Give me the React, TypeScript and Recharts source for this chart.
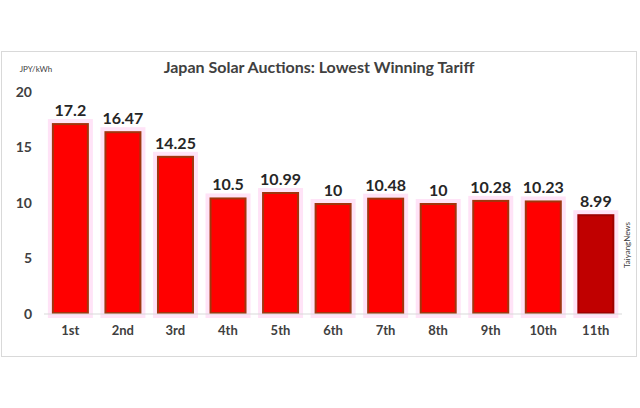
import { BarChart, Bar, XAxis, YAxis, LabelList, Cell } from "recharts";

const rounds = ["1st", "2nd", "3rd", "4th", "5th", "6th", "7th", "8th", "9th", "10th", "11th"];
const tariffs = [17.2, 16.47, 14.25, 10.5, 10.99, 10, 10.48, 10, 10.28, 10.23, 8.99];
const yTicks = [0, 5, 10, 15, 20];

const data = rounds.map((name, i) => ({ name, tariff: tariffs[i] }));

const font = "Lato, 'Open Sans', sans-serif";

// bar with a soft pink glow and a brown edge, like the original
const GlowBar = (props: any) => {
  const { x, y, width, height, fill, index } = props;
  if (!height || height <= 0) return null;
  const last = index === rounds.length - 1;
  return (
    <g>
      <rect x={x - 4} y={y - 4} width={width + 8} height={height + 8} fill="#FFE3F7" />
      <rect
        x={x + 1}
        y={y + 1}
        width={width - 2}
        height={height - 2}
        fill={fill}
        stroke={last ? "#9E0000" : "#A0360E"}
        strokeWidth={2}
      />
    </g>
  );
};

export default function App() {
  return (
    <div style={{ position: "absolute", left: 0, top: 0, width: 640, height: 408, background: "#fff" }}>
      <div
        style={{
          position: "absolute",
          left: 1,
          top: 51,
          width: 636,
          height: 306,
          border: "1px solid #d9d9d9",
          boxSizing: "border-box",
        }}
      />
      <BarChart
        width={640}
        height={408}
        data={data}
        margin={{ top: 92, right: 18, bottom: 64, left: 0 }}
        barCategoryGap="15%"
        style={{ position: "absolute", left: 0, top: 0, fontFamily: font }}
      >
        <text x={319} y={73} textAnchor="middle" fontSize={16} fontWeight={700} fill="#404040" fontFamily={font}>
          Japan Solar Auctions: Lowest Winning Tariff
        </text>
        <text x={36} y={72} textAnchor="middle" fontSize={8} fill="#404040" fontFamily={font}>
          JPY/kWh
        </text>
        <text
          x={630}
          y={245}
          textAnchor="middle"
          fontSize={8}
          fill="#404040"
          fontFamily={font}
          transform="rotate(-90 630 245)"
        >
          TaiyangNews
        </text>
        <XAxis
          dataKey="name"
          height={30}
          tickLine={false}
          axisLine={{ stroke: "#D9D9D9" }}
          tick={{ fill: "#404040", fontSize: 13, fontWeight: 700 }}
          tickMargin={6}
        />
        <YAxis
          width={44}
          domain={[0, 20]}
          ticks={yTicks}
          axisLine={false}
          tickLine={false}
          tickMargin={6}
          tick={{ fill: "#404040", fontSize: 14, fontWeight: 700 }}
        />
        <Bar dataKey="tariff" fill="#FF0000" shape={<GlowBar />} isAnimationActive={false}>
          {data.map((d, i) => (
            <Cell key={d.name} fill={i === rounds.length - 1 ? "#C00000" : "#FF0000"} />
          ))}
          <LabelList
            dataKey="tariff"
            position="top"
            offset={7}
            fill="#262626"
            fontSize={16}
            fontWeight={700}
          />
        </Bar>
      </BarChart>
    </div>
  );
}
